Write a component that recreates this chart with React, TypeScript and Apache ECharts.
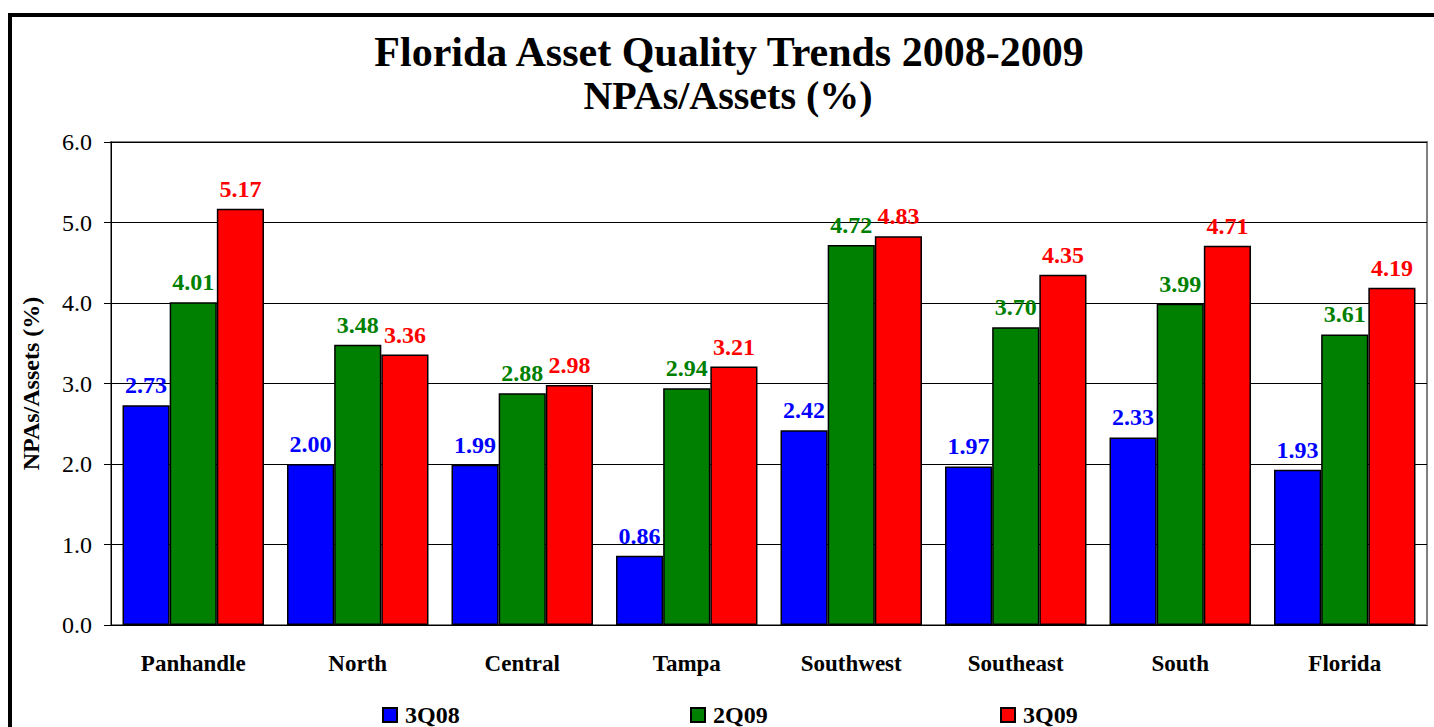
import React, { useEffect, useRef } from "react";
import * as echarts from "echarts";

const categories = ["Panhandle", "North", "Central", "Tampa", "Southwest", "Southeast", "South", "Florida"];
const s3Q08 = [2.73, 2.0, 1.99, 0.86, 2.42, 1.97, 2.33, 1.93];
const s2Q09 = [4.01, 3.48, 2.88, 2.94, 4.72, 3.7, 3.99, 3.61];
const s3Q09 = [5.17, 3.36, 2.98, 3.21, 4.83, 4.35, 4.71, 4.19];
const seriesNames = ["3Q08", "2Q09", "3Q09"];
const seriesColors = ["#0000FF", "#008000", "#FF0000"];
const titleLine1 = "Florida Asset Quality Trends 2008-2009";
const titleLine2 = "NPAs/Assets (%)";
const yAxisName = "NPAs/Assets (%)";

const FONT = "'Liberation Serif', 'Times New Roman', serif";

export default function App() {
  const ref = useRef<HTMLDivElement>(null);
  useEffect(() => {
    document.body.style.margin = "0";
    const chart = echarts.init(ref.current!, null, { renderer: "svg" });
    const data = [s3Q08, s2Q09, s3Q09];
    const legendLefts = [382, 690, 1000];
    chart.setOption({
      animation: false,
      backgroundColor: "#ffffff",
      textStyle: { fontFamily: FONT },
      graphic: [
        {
          type: "rect",
          shape: { x: 10, y: 15, width: 1500, height: 800 },
          style: { fill: "none", stroke: "#000", lineWidth: 4 },
          silent: true,
        },
        {
          type: "text",
          x: 729,
          y: 52,
          style: {
            text: titleLine1,
            fontFamily: FONT,
            fontWeight: "bold",
            fontSize: 42,
            fill: "#000",
            align: "center",
            verticalAlign: "middle",
          },
        },
        {
          type: "text",
          x: 728,
          y: 95,
          style: {
            text: titleLine2,
            fontFamily: FONT,
            fontWeight: "bold",
            fontSize: 40,
            fill: "#000",
            align: "center",
            verticalAlign: "middle",
          },
        },
      ],
      legend: seriesNames.map((n, i) => ({
        data: [n],
        left: legendLefts[i],
        top: 703,
        padding: 0,
        itemWidth: 14,
        itemHeight: 14,
        itemGap: 6,
        icon: "rect",
        textStyle: { fontFamily: FONT, fontWeight: "bold", fontSize: 24, color: "#000", padding: [0, 0, 0, 3] },
      })),
      grid: {
        left: 111,
        top: 142,
        right: 7,
        bottom: 102,
        show: true,
        borderColor: "#808080",
        borderWidth: 2,
        backgroundColor: "#fff",
      },
      xAxis: {
        type: "category",
        data: categories,
        axisLine: { lineStyle: { color: "#000", width: 1 } },
        axisTick: { show: false },
        axisLabel: {
          fontFamily: FONT,
          fontWeight: "bold",
          fontSize: 23,
          color: "#000",
          margin: 27,
        },
      },
      yAxis: {
        type: "value",
        min: 0,
        max: 6,
        interval: 1,
        name: yAxisName,
        nameLocation: "middle",
        nameGap: 68,
        nameTextStyle: { fontFamily: FONT, fontWeight: "bold", fontSize: 24, color: "#000" },
        axisLine: { show: true, lineStyle: { color: "#000", width: 1 } },
        axisTick: { show: true, length: 7, lineStyle: { color: "#000" } },
        splitLine: { show: true, lineStyle: { color: "#000", width: 1 } },
        axisLabel: {
          fontFamily: FONT,
          fontSize: 24,
          color: "#000",
          margin: 19,
          formatter: (v: number) => v.toFixed(1),
        },
      },
      series: seriesNames.map((n, i) => ({
        name: n,
        type: "bar",
        data: data[i],
        barGap: "0%",
        barCategoryGap: "14%",
        itemStyle: { color: seriesColors[i], borderColor: "#000", borderWidth: 1.5 },
        label: {
          show: true,
          position: "top",
          distance: 8,
          fontFamily: FONT,
          fontWeight: "bold",
          fontSize: 24,
          color: seriesColors[i],
          formatter: (p: any) => Number(p.value).toFixed(2),
        },
      })),
    });
    return () => chart.dispose();
  }, []);
  return <div ref={ref} style={{ width: 1434, height: 727 }} />;
}
